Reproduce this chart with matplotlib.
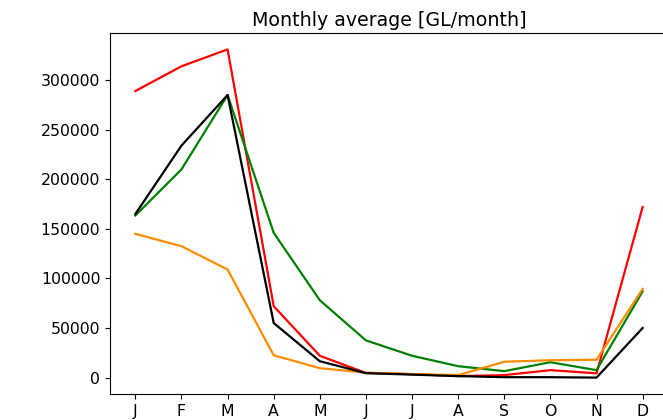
import matplotlib
matplotlib.use('Agg')
import matplotlib.pyplot as plt

months = ['J', 'F', 'M', 'A', 'M', 'J', 'J', 'A', 'S', 'O', 'N', 'D']

# monthly averages per series [GL/month]
red_vals = [289000, 314000, 331000, 72000, 22000, 4700, 3500, 1500, 2500, 7500, 4300, 172000]
green_vals = [163500, 210000, 285000, 146000, 78000, 37500, 22000, 11500, 6500, 15500, 7500, 87000]
black_vals = [165000, 234000, 285000, 55000, 16500, 4500, 3000, 1500, 400, 400, 0, 50000]
orange_vals = [145000, 132500, 109000, 22500, 9500, 5000, 3500, 2500, 16000, 17500, 18000, 89500]

plt.rcParams['font.size'] = 11.3

fig = plt.figure(figsize=(6.63, 4.2), dpi=100)
ax = fig.add_axes([110 / 663, 26 / 420, 558 / 663, 361 / 420])

x = range(len(months))
ax.plot(x, red_vals, color='red', lw=1.6)
ax.plot(x, green_vals, color='green', lw=1.6)
ax.plot(x, orange_vals, color='darkorange', lw=1.6)
ax.plot(x, black_vals, color='black', lw=1.6)

ax.set_xticks(list(x))
ax.set_xticklabels(months)
ax.set_title('Monthly average [GL/month]', fontsize=13.7, pad=5)

fig.savefig('out.png', dpi=100)
